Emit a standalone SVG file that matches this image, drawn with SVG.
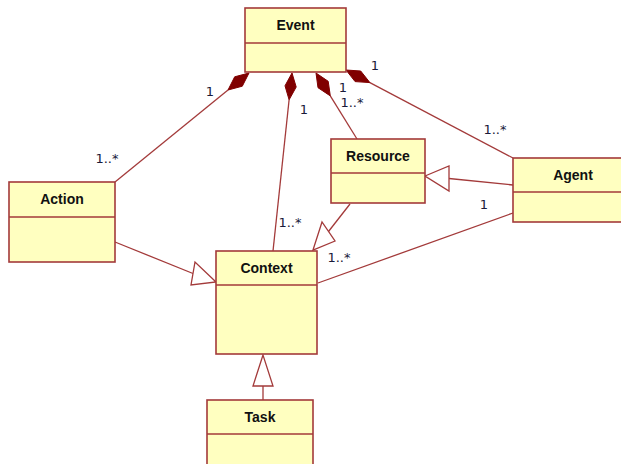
<svg xmlns="http://www.w3.org/2000/svg" width="621" height="464" viewBox="0 0 621 464">
<style>
.box{fill:#ffffc0;stroke:#a33a3a;stroke-width:1.6}
.div{stroke:#a33a3a;stroke-width:1.6}
.ln{stroke:#a33a3a;stroke-width:1.3;fill:none}
.tri{stroke:#a33a3a;stroke-width:1.3;fill:#ffffff}
.dia{fill:#800000;stroke:#800000;stroke-width:1}
.name{font-family:"Liberation Sans",Arial,sans-serif;font-weight:bold;font-size:14px;fill:#111;text-anchor:middle}
.lbl{font-family:"DejaVu Sans","Liberation Sans",sans-serif;font-size:13px;fill:#1a1a3a;text-anchor:middle}
</style>
<rect width="621" height="464" fill="#ffffff"/>
<g id="connectors">
  <line class="ln" x1="228" y1="90" x2="115" y2="182"/>
  <polygon class="dia" points="249,73 242.3,86.2 228,90 234.7,76.8"/>
  <line class="ln" x1="289.1" y1="99.8" x2="273" y2="251"/>
  <polygon class="dia" points="292,73 296.2,87 289.1,99.8 285,85.8"/>
  <line class="ln" x1="330.3" y1="95.9" x2="357" y2="139"/>
  <polygon class="dia" points="316,73 328.2,81.3 330.3,95.9 318,87.7"/>
  <line class="ln" x1="369.9" y1="82.6" x2="513" y2="158"/>
  <polygon class="dia" points="346,70 360.7,71.0 369.9,82.6 355.1,81.6"/>
  <line class="ln" x1="449" y1="178.5" x2="513" y2="185"/>
  <polygon class="tri" points="425,176 449,166 449,191"/>
  <line class="ln" x1="350" y1="204" x2="328.5" y2="231.5"/>
  <polygon class="tri" points="313,250 322,222 335,241"/>
  <line class="ln" x1="115" y1="242" x2="193" y2="273.5"/>
  <polygon class="tri" points="216,282 195,262 191,285"/>
  <line class="ln" x1="263" y1="386" x2="263" y2="400"/>
  <polygon class="tri" points="263,355 253,386 273,386"/>
  <line class="ln" x1="513" y1="213" x2="318" y2="283"/>
  <text class="lbl" x="210" y="96">1</text>
  <text class="lbl" x="107" y="163">1..*</text>
  <text class="lbl" x="304" y="114">1</text>
  <text class="lbl" x="290" y="227">1..*</text>
  <text class="lbl" x="343" y="92">1</text>
  <text class="lbl" x="352" y="107">1..*</text>
  <text class="lbl" x="375" y="70">1</text>
  <text class="lbl" x="495" y="134">1..*</text>
  <text class="lbl" x="484" y="209">1</text>
  <text class="lbl" x="339" y="262">1..*</text>
</g>
<g id="Event">
  <rect class="box" x="245" y="8" width="101" height="64"/>
  <line class="div" x1="245" y1="43" x2="346" y2="43"/>
  <text class="name" x="295.5" y="30">Event</text>
</g>
<g id="Action">
  <rect class="box" x="9" y="182" width="106" height="80"/>
  <line class="div" x1="9" y1="217" x2="115" y2="217"/>
  <text class="name" x="62" y="204">Action</text>
</g>
<g id="Resource">
  <rect class="box" x="331" y="139" width="94" height="64"/>
  <line class="div" x1="331" y1="173" x2="425" y2="173"/>
  <text class="name" x="378" y="161">Resource</text>
</g>
<g id="Agent">
  <rect class="box" x="513" y="158" width="120" height="64"/>
  <line class="div" x1="513" y1="192" x2="633" y2="192"/>
  <text class="name" x="573" y="180">Agent</text>
</g>
<g id="Context">
  <rect class="box" x="216" y="251" width="101" height="103"/>
  <line class="div" x1="216" y1="285" x2="317" y2="285"/>
  <text class="name" x="266.5" y="273">Context</text>
</g>
<g id="Task">
  <rect class="box" x="207" y="400" width="106" height="70"/>
  <line class="div" x1="207" y1="434" x2="313" y2="434"/>
  <text class="name" x="260" y="422">Task</text>
</g>
</svg>
